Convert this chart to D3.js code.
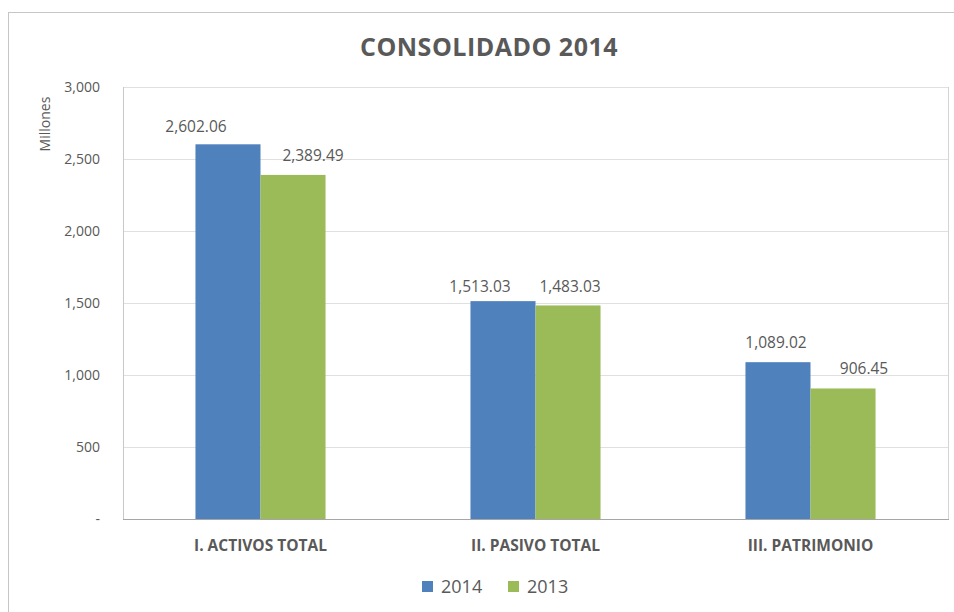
<!DOCTYPE html>
<html>
<head>
<meta charset="utf-8">
<script src="https://cdn.jsdelivr.net/npm/d3@7"></script>
<style>
  body { margin: 0; background: #fff; }
  svg { display: block; font-family: "Open Sans", Lato, sans-serif; }
</style>
</head>
<body>
<script>
// chart values
var categories = ["I. ACTIVOS TOTAL", "II. PASIVO TOTAL", "III. PATRIMONIO"];
var seriesNames = ["2014", "2013"];
var values2014 = [2602.06, 1513.03, 1089.02];
var values2013 = [2389.49, 1483.03, 906.45];
var yTicks = [0, 500, 1000, 1500, 2000, 2500, 3000];

// canvas and plot magic numbers
var w = 954;
var h = 612;
var plotLeft = 123;
var plotRight = 948;
var plotTop = 87;
var plotBottom = 519;

var blue = "#4f81bd";
var green = "#9bbb59";
var textGray = "#595959";

// data labels were dragged by hand in the original, nudge them the same way
var labelNudge2014 = [[-32, -12], [-23, -9], [-2, -14]];
var labelNudge2013 = [[20, -14], [2, -13], [21, -14]];

var svg = d3.select("body")
            .append("svg")
            .attr("width", w)
            .attr("height", h);

// outer chart border
svg.append("rect")
   .attr("x", 8.5)
   .attr("y", 12.5)
   .attr("width", 960)
   .attr("height", 620)
   .attr("fill", "#fff")
   .attr("stroke", "#c6c6c6");

var y = d3.scaleLinear()
          .domain([0, 3000])
          .range([plotBottom, plotTop]);

var x0 = d3.scaleBand()
           .domain(categories)
           .range([plotLeft, plotRight])
           .paddingInner(0.527)
           .paddingOuter(0.2635);

var x1 = d3.scaleBand()
           .domain(seriesNames)
           .range([0, x0.bandwidth()]);

var color = d3.scaleOrdinal()
              .domain(seriesNames)
              .range([blue, green]);

// gridlines
svg.append("g")
   .selectAll("line")
   .data(yTicks.slice(1))
   .enter().append("line")
     .attr("x1", plotLeft)
     .attr("x2", plotRight)
     .attr("y1", function(d) { return Math.round(y(d)) + 0.5; })
     .attr("y2", function(d) { return Math.round(y(d)) + 0.5; })
     .attr("stroke", "#e0e0e0");

// plot area frame (left and right sides)
svg.append("line")
   .attr("x1", plotLeft + 0.5).attr("x2", plotLeft + 0.5)
   .attr("y1", plotTop).attr("y2", plotBottom)
   .attr("stroke", "#c8c8c8");
svg.append("line")
   .attr("x1", plotRight + 0.5).attr("x2", plotRight + 0.5)
   .attr("y1", plotTop).attr("y2", plotBottom)
   .attr("stroke", "#d4d4d4");

// y axis labels
var yAxis = svg.append("g")
   .attr("transform", "translate(" + (plotLeft - 20) + ",0)")
   .call(d3.axisLeft(y)
           .tickValues(yTicks)
           .tickSize(0)
           .tickFormat(function(d) { return d === 0 ? "-" : d3.format(",")(d); }));
yAxis.select(".domain").remove();
yAxis.selectAll("text")
     .attr("fill", textGray)
     .attr("font-size", 14)
     .attr("font-family", "'Open Sans', Lato, sans-serif");

svg.append("text")
   .attr("transform", "translate(50," + 124 + ") rotate(-90)")
   .attr("text-anchor", "middle")
   .attr("fill", textGray)
   .attr("font-size", 14)
   .text("Millones");

// bars
var rows = categories.map(function(c, i) {
    return { cat: c, vals: [
        { key: "2014", value: values2014[i], nudge: labelNudge2014[i] },
        { key: "2013", value: values2013[i], nudge: labelNudge2013[i] }
    ]};
});

var groups = svg.append("g")
   .selectAll("g")
   .data(rows)
   .enter().append("g")
     .attr("transform", function(d) { return "translate(" + x0(d.cat) + ",0)"; });

groups.selectAll("rect")
   .data(function(d) { return d.vals; })
   .enter().append("rect")
     .attr("x", function(d) { return x1(d.key); })
     .attr("y", function(d) { return y(d.value); })
     .attr("width", x1.bandwidth())
     .attr("height", function(d) { return plotBottom - y(d.value); })
     .attr("fill", function(d) { return color(d.key); });

groups.selectAll("text")
   .data(function(d) { return d.vals; })
   .enter().append("text")
     .attr("x", function(d) { return x1(d.key) + x1.bandwidth() / 2 + d.nudge[0]; })
     .attr("y", function(d) { return y(d.value) + d.nudge[1]; })
     .attr("text-anchor", "middle")
     .attr("fill", textGray)
     .attr("font-size", 15.5)
     .text(function(d) { return d3.format(",.2f")(d.value); });

// x axis line
svg.append("line")
   .attr("x1", plotLeft).attr("x2", plotRight + 1)
   .attr("y1", plotBottom + 0.5).attr("y2", plotBottom + 0.5)
   .attr("stroke", "#a6a6a6");

// category labels
svg.append("g")
   .selectAll("text")
   .data(categories)
   .enter().append("text")
     .attr("x", function(d) { return x0(d) + x0.bandwidth() / 2; })
     .attr("y", 551)
     .attr("text-anchor", "middle")
     .attr("fill", textGray)
     .attr("font-size", 15.5)
     .attr("font-weight", "bold")
     .text(function(d) { return d; });

// title
svg.append("text")
   .attr("x", 489)
   .attr("y", 56)
   .attr("text-anchor", "middle")
   .attr("fill", textGray)
   .attr("font-size", 25)
   .attr("font-weight", "bold")
   .attr("letter-spacing", 0.5)
   .text("CONSOLIDADO 2014");

// legend
var legendX = [422, 508];
var legend = svg.append("g")
   .selectAll("g")
   .data(seriesNames)
   .enter().append("g")
     .attr("transform", function(d, i) { return "translate(" + legendX[i] + ",581)"; });

legend.append("rect")
   .attr("width", 11)
   .attr("height", 11)
   .attr("fill", color);

legend.append("text")
   .attr("x", 19)
   .attr("y", 12)
   .attr("fill", textGray)
   .attr("font-size", 18)
   .text(function(d) { return d; });
</script>
</body>
</html>
